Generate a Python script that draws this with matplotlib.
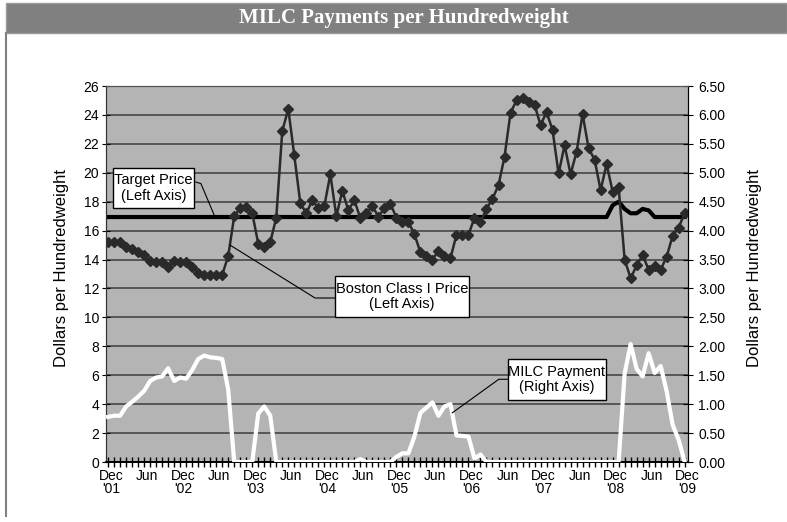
import numpy as np
import matplotlib.pyplot as plt
from matplotlib.patches import Rectangle
from matplotlib.lines import Line2D
from matplotlib.transforms import ScaledTranslation

plt.rcParams['font.family'] = ['Liberation Sans', 'DejaVu Sans']

# monthly values, Dec 2001 .. Dec 2009
boston = [15.23, 15.23, 15.2, 14.9, 14.7, 14.55, 14.3, 13.9, 13.8, 13.8,
          13.45, 13.9, 13.8, 13.85, 13.5, 13.1, 12.9, 12.95, 12.95, 12.95,
          14.25, 17.0, 17.55, 17.65, 17.2, 15.1, 14.9, 15.2, 16.9, 22.9,
          24.4, 21.2, 17.9, 17.2, 18.1, 17.55, 17.7, 19.9, 17.0, 18.75,
          17.4, 18.1, 16.85, 17.2, 17.7, 16.96, 17.55, 17.85, 16.9, 16.6,
          16.6, 15.75, 14.5, 14.25, 14.0, 14.6, 14.25, 14.1, 15.7, 15.7,
          15.7, 16.9, 16.6, 17.5, 18.2, 19.15, 21.1, 24.15, 25.0, 25.2,
          24.9, 24.7, 23.3, 24.2, 22.95, 19.95, 21.9, 19.9, 21.45, 24.05,
          21.7, 20.9, 18.8, 20.6, 18.7, 19.0, 14.0, 12.7, 13.6, 14.3,
          13.3, 13.55, 13.3, 14.2, 15.65, 16.2, 17.25]

target = [16.94] * 84 + [17.75, 18.0, 17.5, 17.2, 17.2, 17.5, 17.4] + [16.94] * 6

milc = ([0.78, 0.80, 0.80, 0.96, 1.04, 1.13, 1.23, 1.40, 1.46, 1.48,
         1.62, 1.40, 1.46, 1.44, 1.59, 1.78, 1.84, 1.81, 1.80, 1.78, 1.25]
        + [0.0] * 4 + [0.84, 0.96, 0.80] + [0.0] * 14 + [0.05] + [0.0] * 5
        + [0.09, 0.15, 0.15, 0.44, 0.85, 0.94, 1.03, 0.80, 0.96, 1.00,
           0.46, 0.45, 0.44, 0.06, 0.13]
        + [0.0] * 23
        + [1.53, 2.04, 1.61, 1.48, 1.88, 1.54, 1.66, 1.22, 0.64, 0.38, 0.0])

x_labels = ["Dec\n'01", "Jun", "Dec\n'02", "Jun", "Dec\n'03", "Jun", "Dec\n'04", "Jun",
            "Dec\n'05", "Jun", "Dec\n'06", "Jun", "Dec\n'07", "Jun", "Dec\n'08", "Jun",
            "Dec\n'09"]

W, H = 787, 522
fig = plt.figure(figsize=(W / 100, H / 100), dpi=100)


def fx(x):
    return x / W


def fy(y):
    return 1 - y / H


# title band and frame
fig.patches.append(Rectangle((fx(6), fy(33)), fx(781), 30 / H, transform=fig.transFigure,
                             fc='#808080', ec='#9a9a9a', lw=1, zorder=0))
fig.lines.append(Line2D([fx(6), fx(6)], [fy(33), fy(516)], transform=fig.transFigure,
                        color='#808080', lw=1.5))
fig.text(fx(404), fy(18), 'MILC Payments per Hundredweight', color='white',
         fontsize=15, fontweight='bold', family='Liberation Serif', ha='center', va='center')

ax = fig.add_axes([fx(106), fy(462), (688 - 106) / W, (462 - 86) / H])
ax2 = ax.twinx()

n = len(boston)
t = np.arange(n)

ax.set_facecolor('#b4b4b4')
ax.plot(t, target, color='black', lw=3, zorder=3, solid_joinstyle='round')
ax.plot(t, boston, color='#2a2a2a', lw=1.8, marker='D', ms=5, zorder=4)
ax2.plot(t, milc, color='white', lw=3, zorder=3, solid_joinstyle='round')

ax.set_ylim(0, 26)
ax.set_yticks(np.arange(0, 27, 2))
ax2.set_ylim(0, 6.5)
ax2.set_yticks(np.arange(0, 6.51, 0.5))
ax2.set_yticklabels(['%.2f' % v for v in np.arange(0, 6.51, 0.5)])
ax.set_xlim(-0.35, 96.55)
ax.yaxis.grid(True, color='#3c3c3c', lw=1.1)
ax.set_axisbelow(True)

ax.set_xticks(np.arange(0, n, 6))
ax.set_xticklabels(x_labels, va='top', ha='center', multialignment='center', linespacing=0.95)
ax.set_xticks(t, minor=True)
ax.tick_params(axis='x', which='both', direction='inout', length=7, width=1, labelsize=10, pad=1.5)
ax.tick_params(axis='y', direction='inout', length=6, labelsize=10, pad=2)
ax2.tick_params(axis='y', direction='inout', length=7, labelsize=10, pad=4)
shift = ScaledTranslation(3 / 100, 0, fig.dpi_scale_trans)
for lbl in ax.get_xticklabels():
    lbl.set_transform(lbl.get_transform() + shift)

for a in (ax, ax2):
    a.spines['top'].set_color('#555555')
    a.spines['left'].set_color('#333333')
    a.spines['right'].set_color('black')
    a.spines['bottom'].set_color('black')
    a.spines['bottom'].set_linewidth(1.2)

ax.set_ylabel('Dollars per Hundredweight', fontsize=12)
ax2.set_ylabel('Dollars per Hundredweight', fontsize=12)
ax.yaxis.set_label_coords((69 - 106) / 582, 0.515)
ax2.yaxis.set_label_coords((747 - 106) / 582, 0.515)

# leader lines
ax.plot([14.6, 15.45, 17.8], [19.36, 19.25, 16.94], color='black', lw=0.8, clip_on=False, zorder=5)
ax.plot([20.3, 34.45, 37.8], [15.0, 11.34, 11.34], color='black', lw=0.8, clip_on=False, zorder=5)
ax2.plot([57.3, 65.05, 66.6], [0.85, 1.43, 1.43], color='black', lw=0.8, clip_on=False, zorder=5)

# callout boxes
boxes = [((113, 168, 194, 208), 'Target Price\n(Left Axis)'),
         ((335, 276, 469, 317), 'Boston Class I Price\n(Left Axis)'),
         ((508, 359, 606, 400), 'MILC Payment\n(Right Axis)')]
for (x0, y0, x1, y1), label in boxes:
    fig.patches.append(Rectangle((fx(x0), fy(y1)), (x1 - x0) / W, (y1 - y0) / H,
                                 transform=fig.transFigure, fc='white', ec='black', lw=1, zorder=5))
    fig.text(fx((x0 + x1) / 2), fy((y0 + y1) / 2), label, ha='center', va='center',
             fontsize=10.5, linespacing=1.15, zorder=6)

fig.savefig('out.png', dpi=100)
